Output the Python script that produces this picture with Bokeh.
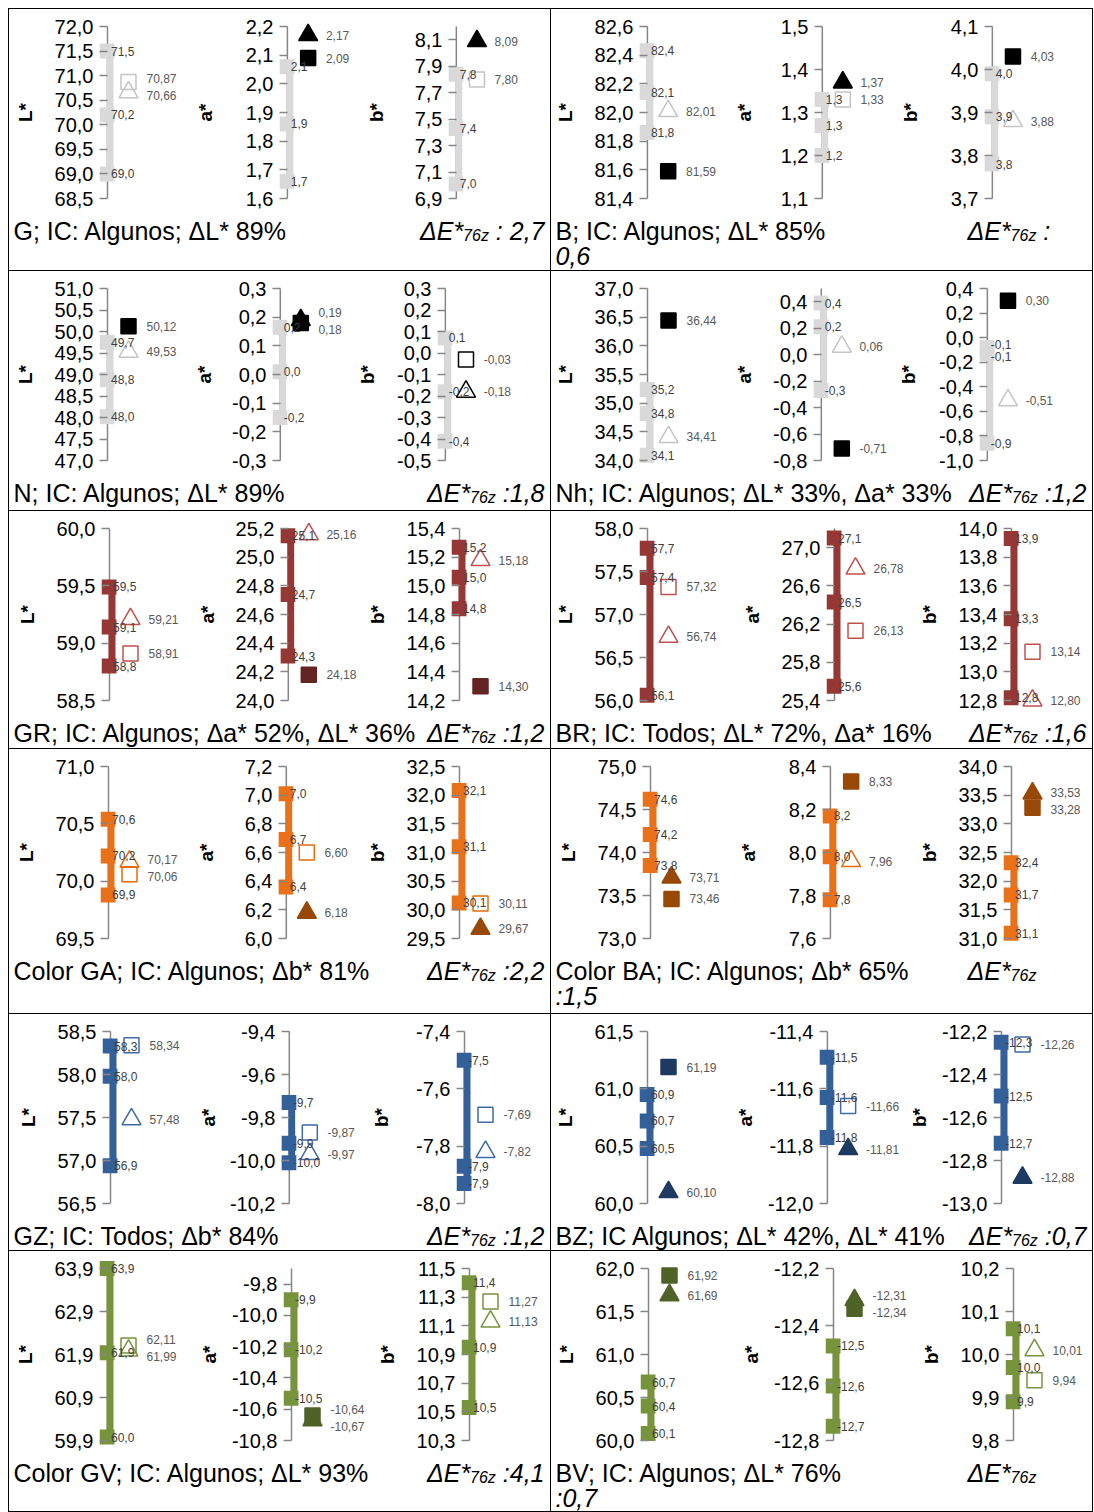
from bokeh.plotting import figure
from bokeh.models import Range1d, LinearAxis, FixedTicker, CustomJSTickFormatter, ColumnDataSource
from bokeh.layouts import row, column
from bokeh.embed import file_html
from bokeh.resources import INLINE
from bokeh.core.properties import value

# ------------------------------------------------------------------ data
COMPONENTS = ["L*", "a*", "b*"]

CAP_LEFT = ["G; IC: Algunos; ΔL* 89%", "B; IC: Algunos; ΔL* 85%",
            "N; IC: Algunos; ΔL* 89%", "Nh; IC: Algunos; ΔL* 33%, Δa* 33%",
            "GR; IC: Algunos; Δa* 52%, ΔL* 36%", "BR; IC: Todos; ΔL* 72%, Δa* 16%",
            "Color GA; IC: Algunos; Δb* 81%", "Color BA; IC: Algunos; Δb* 65%",
            "GZ; IC: Todos; Δb* 84%", "BZ; IC Algunos; ΔL* 42%, ΔL* 41%",
            "Color GV; IC: Algunos; ΔL* 93%", "BV; IC: Algunos; ΔL* 76%"]
NB = "\u00a0"
CAP_DE_TAIL = [NB + ":" + NB + "2,7", NB + ":", NB + ":1,8", NB + ":1,2", NB + ":1,2", NB + ":1,6",
               NB + ":2,2", "", NB + ":1,2", NB + ":0,7", NB + ":4,1", ""]
CAP_LINE2 = ["", "0,6", "", "", "", "", "", ":1,5", "", "", "", ":0,7"]

# each cell: ticks / axis top / IC positions / IC labels / compared markers, for [L*, a*, b*]
G_ticks = [[68.5, 69.0, 69.5, 70.0, 70.5, 71.0, 71.5, 72.0], [1.6, 1.7, 1.8, 1.9, 2.0, 2.1, 2.2],
           [6.9, 7.1, 7.3, 7.5, 7.7, 7.9, 8.1]]
G_top = [72.0, 2.2, 8.2]
G_ic = [[69.0, 70.2, 71.5], [1.66, 1.86, 2.06], [7.01, 7.43, 7.84]]
G_ic_lab = [["69,0", "70,2", "71,5"], ["1,7", "1,9", "2,1"], ["7,0", "7,4", "7,8"]]
G_mk = [[("hs", 70.87), ("ht", 70.66)], [("ft", 2.17), ("fs", 2.09)], [("ft", 8.09), ("hs", 7.80)]]

B_ticks = [[81.4, 81.6, 81.8, 82.0, 82.2, 82.4, 82.6], [1.1, 1.2, 1.3, 1.4, 1.5], [3.7, 3.8, 3.9, 4.0, 4.1]]
B_top = [82.6, 1.5, 4.1]
B_ic = [[81.86, 82.14, 82.43], [1.20, 1.27, 1.33], [3.78, 3.89, 3.99]]
B_ic_lab = [["81,8", "82,1", "82,4"], ["1,2", "1,3", "1,3"], ["3,8", "3,9", "4,0"]]
B_mk = [[("ht", 82.01), ("fs", 81.59)], [("ft", 1.37), ("hs", 1.33)], [("fs", 4.03), ("ht", 3.88)]]

N_ticks = [[47.0, 47.5, 48.0, 48.5, 49.0, 49.5, 50.0, 50.5, 51.0], [-0.3, -0.2, -0.1, 0.0, 0.1, 0.2, 0.3],
           [-0.5, -0.4, -0.3, -0.2, -0.1, 0.0, 0.1, 0.2, 0.3]]
N_top = [51.0, 0.3, 0.3]
N_ic = [[48.02, 48.88, 49.75], [-0.15, 0.01, 0.165], [-0.41, -0.18, 0.07]]
N_ic_lab = [["48,0", "48,8", "49,7"], ["-0,2", "0,0", "0,2"], ["-0,4", "-0,2", "0,1"]]
N_mk = [[("fs", 50.12), ("ht", 49.53)], [("ft", 0.19), ("fs", 0.18)], [("hs", -0.03), ("ht", -0.18)]]

Nh_ticks = [[34.0, 34.5, 35.0, 35.5, 36.0, 36.5, 37.0], [-0.8, -0.6, -0.4, -0.2, 0.0, 0.2, 0.4],
            [-1.0, -0.8, -0.6, -0.4, -0.2, 0.0, 0.2, 0.4]]
Nh_top = [37.0, 0.5, 0.4]
Nh_ic = [[34.09, 34.82, 35.24], [-0.27, 0.21, 0.39], [-0.86, -0.13, -0.08]]
Nh_ic_lab = [["34,1", "34,8", "35,2"], ["-0,3", "0,2", "0,4"], ["-0,9", "-0,1", "-0,1"]]
Nh_mk = [[("fs", 36.44), ("ht", 34.41)], [("ht", 0.06), ("fs", -0.71)], [("fs", 0.30), ("ht", -0.51)]]

GR_ticks = [[58.5, 59.0, 59.5, 60.0], [24.0, 24.2, 24.4, 24.6, 24.8, 25.0, 25.2],
            [14.2, 14.4, 14.6, 14.8, 15.0, 15.2, 15.4]]
GR_top = [60.0, 25.2, 15.4]
GR_ic = [[58.80, 59.14, 59.49], [24.31, 24.74, 25.15], [14.84, 15.06, 15.27]]
GR_ic_lab = [["58,8", "59,1", "59,5"], ["24,3", "24,7", "25,1"], ["14,8", "15,0", "15,2"]]
GR_mk = [[("ht", 59.21), ("hs", 58.91)], [("ht", 25.16), ("fs", 24.18)], [("ht", 15.18), ("fs", 14.30)]]

BR_ticks = [[56.0, 56.5, 57.0, 57.5, 58.0], [25.4, 25.8, 26.2, 26.6, 27.0],
            [12.8, 13.0, 13.2, 13.4, 13.6, 13.8, 14.0]]
BR_top = [58.0, 27.2, 14.0]
BR_ic = [[56.06, 57.43, 57.77], [25.55, 26.43, 27.10], [12.82, 13.37, 13.93]]
BR_ic_lab = [["56,1", "57,4", "57,7"], ["25,6", "26,5", "27,1"], ["12,8", "13,3", "13,9"]]
BR_mk = [[("hs", 57.32), ("ht", 56.74)], [("ht", 26.78), ("hs", 26.13)], [("hs", 13.14), ("ht", 12.80)]]

GA_ticks = [[69.5, 70.0, 70.5, 71.0], [6.0, 6.2, 6.4, 6.6, 6.8, 7.0, 7.2],
            [29.5, 30.0, 30.5, 31.0, 31.5, 32.0, 32.5]]
GA_top = [71.0, 7.2, 32.5]
GA_ic = [[69.88, 70.22, 70.54], [6.36, 6.69, 7.01], [30.12, 31.10, 32.08]]
GA_ic_lab = [["69,9", "70,2", "70,6"], ["6,4", "6,7", "7,0"], ["30,1", "31,1", "32,1"]]
GA_mk = [[("ht", 70.17), ("hs", 70.06)], [("hs", 6.60), ("ft", 6.18)], [("hs", 30.11), ("ft", 29.67)]]

BA_ticks = [[73.0, 73.5, 74.0, 74.5, 75.0], [7.6, 7.8, 8.0, 8.2, 8.4],
            [31.0, 31.5, 32.0, 32.5, 33.0, 33.5, 34.0]]
BA_top = [75.0, 8.4, 34.0]
BA_ic = [[73.85, 74.21, 74.62], [7.78, 7.98, 8.17], [31.09, 31.76, 32.32]]
BA_ic_lab = [["73,8", "74,2", "74,6"], ["7,8", "8,0", "8,2"], ["31,1", "31,7", "32,4"]]
BA_mk = [[("ft", 73.71), ("fs", 73.46)], [("fs", 8.33), ("ht", 7.96)], [("ft", 33.53), ("fs", 33.28)]]

GZ_ticks = [[56.5, 57.0, 57.5, 58.0, 58.5], [-10.2, -10.0, -9.8, -9.6, -9.4], [-8.0, -7.8, -7.6, -7.4]]
GZ_top = [58.5, -9.4, -7.4]
GZ_ic = [[56.94, 57.98, 58.33], [-10.01, -9.92, -9.73], [-7.93, -7.87, -7.50]]
GZ_ic_lab = [["56,9", "58,0", "58,3"], ["-10,0", "-9,9", "-9,7"], ["-7,9", "-7,9", "-7,5"]]
GZ_mk = [[("hs", 58.34), ("ht", 57.48)], [("hs", -9.87), ("ht", -9.97)], [("hs", -7.69), ("ht", -7.82)]]

BZ_ticks = [[60.0, 60.5, 61.0, 61.5], [-12.0, -11.8, -11.6, -11.4], [-13.0, -12.8, -12.6, -12.4, -12.2]]
BZ_top = [61.5, -11.4, -12.2]
BZ_ic = [[60.48, 60.72, 60.95], [-11.77, -11.63, -11.49], [-12.72, -12.50, -12.25]]
BZ_ic_lab = [["60,5", "60,7", "60,9"], ["-11,8", "-11,6", "-11,5"], ["-12,7", "-12,5", "-12,3"]]
BZ_mk = [[("fs", 61.19), ("ft", 60.10)], [("hs", -11.66), ("ft", -11.81)], [("hs", -12.26), ("ft", -12.88)]]

GV_ticks = [[59.9, 60.9, 61.9, 62.9, 63.9], [-10.8, -10.6, -10.4, -10.2, -10.0, -9.8],
            [10.3, 10.5, 10.7, 10.9, 11.1, 11.3, 11.5]]
GV_top = [63.9, -9.7, 11.5]
GV_ic = [[59.98, 61.94, 63.90], [-10.53, -10.22, -9.90], [10.53, 10.95, 11.40]]
GV_ic_lab = [["60,0", "61,9", "63,9"], ["-10,5", "-10,2", "-9,9"], ["10,5", "10,9", "11,4"]]
GV_mk = [[("hs", 62.11), ("ht", 61.99)], [("ft", -10.67), ("fs", -10.64)], [("hs", 11.27), ("ht", 11.13)]]

BV_ticks = [[60.0, 60.5, 61.0, 61.5, 62.0], [-12.8, -12.6, -12.4, -12.2], [9.8, 9.9, 10.0, 10.1, 10.2]]
BV_top = [62.0, -12.2, 10.2]
BV_ic = [[60.08, 60.40, 60.68], [-12.75, -12.61, -12.47], [9.89, 9.97, 10.06]]
BV_ic_lab = [["60,1", "60,4", "60,7"], ["-12,7", "-12,6", "-12,5"], ["9,9", "10,0", "10,1"]]
BV_mk = [[("fs", 61.92), ("ft", 61.69)], [("ft", -12.31), ("fs", -12.34)], [("ht", 10.01), ("hs", 9.94)]]

CELLS = [
    (G_ticks, G_top, G_ic, G_ic_lab, G_mk), (B_ticks, B_top, B_ic, B_ic_lab, B_mk),
    (N_ticks, N_top, N_ic, N_ic_lab, N_mk), (Nh_ticks, Nh_top, Nh_ic, Nh_ic_lab, Nh_mk),
    (GR_ticks, GR_top, GR_ic, GR_ic_lab, GR_mk), (BR_ticks, BR_top, BR_ic, BR_ic_lab, BR_mk),
    (GA_ticks, GA_top, GA_ic, GA_ic_lab, GA_mk), (BA_ticks, BA_top, BA_ic, BA_ic_lab, BA_mk),
    (GZ_ticks, GZ_top, GZ_ic, GZ_ic_lab, GZ_mk), (BZ_ticks, BZ_top, BZ_ic, BZ_ic_lab, BZ_mk),
    (GV_ticks, GV_top, GV_ic, GV_ic_lab, GV_mk), (BV_ticks, BV_top, BV_ic, BV_ic_lab, BV_mk),
]

# ------------------------------------------------------------------ styles / layout
PALETTES = {
    "gray": dict(bar="#d9d9d9", hollow="#c4c4c4", filled="#000000"),
    "red": dict(bar="#953735", hollow="#c0504d", filled="#632523"),
    "orange": dict(bar="#e8711a", hollow="#e46c0a", filled="#984807"),
    "blue": dict(bar="#34609a", hollow="#3e6aa6", filled="#1f3a60"),
    "green": dict(bar="#77933c", hollow="#77933c", filled="#4f6228"),
}
ROW_PAL = ["gray", "gray", "red", "orange", "blue", "green"]
HOLLOW_OVERRIDE = {(2, 2): "#000000"}

# pixel position of each mini-plot's axis line inside its cell
AXIS_X = [(98, 277, 445), (95, 269, 439), (98, 269, 434), (96, 268, 434),
          (100, 277, 450), (96, 283, 460), (99, 275, 450), (99, 278, 460),
          (101, 278, 455), (96, 275, 450), (98, 282, 460), (97, 282, 462)]

FONT = "Liberation Sans"
AXIS_GRAY = "#868686"
CELL_W = 541
ROW_H = [261, 239, 237, 264, 236, 260]
PLOT_H = 205
AX_TOP, AX_LEN = 17, 172
BORDER = "1px solid #000"
CAP_PX, SUB_PX = 25, 16

CHAR_W = {c: 0.556 for c in "0123456789"}
CHAR_W.update({",": 0.278, ".": 0.278, "-": 0.333, ":": 0.278, " ": 0.278, NB: 0.278, "*": 0.389,
               "Δ": 0.668, "E": 0.667, "z": 0.5})


def text_w(s, px):
    return sum(CHAR_W.get(c, 0.556) for c in s) * px


def spread(vals, upp, min_px):
    order = sorted(range(len(vals)), key=lambda i: -vals[i])
    pos = [vals[i] for i in order]
    gap = min_px * upp
    for _ in range(30):
        moved = False
        for k in range(1, len(pos)):
            d = pos[k - 1] - pos[k]
            if d < gap - 1e-12:
                s = (gap - d) / 2
                pos[k - 1] += s
                pos[k] -= s
                moved = True
        if not moved:
            break
    out = [0.0] * len(vals)
    for k, i in enumerate(order):
        out[i] = pos[k]
    return out


def fmt2(v):
    return f"{v:.2f}".replace(".", ",")


def mini(ticks, top, ic, ic_lab, mk, comp, pal, hollow_col, fw, fl):
    lo, hi = ticks[0], top
    upp = (hi - lo) / AX_LEN
    pad_top = (AX_TOP - 5) * upp
    pad_bot = (PLOT_H - 4 - AX_TOP - AX_LEN) * upp
    frame_w = fw - fl
    p = figure(width=fw, height=PLOT_H, x_range=Range1d(-8, frame_w - 8),
               y_range=Range1d(lo - pad_bot, hi + pad_top),
               output_backend="svg", toolbar_location=None,
               x_axis_location=None, y_axis_location=None,
               min_border_left=fl, min_border_right=0, min_border_top=5, min_border_bottom=4,
               outline_line_color=None)
    p.grid.visible = False
    wmax = max(text_w(f"{t:.1f}".replace(".", ","), 20) for t in ticks)
    st = int(round(min(55 - wmax, fl - 31 - wmax)))
    ax = LinearAxis(ticker=FixedTicker(ticks=ticks, minor_ticks=[]),
                    formatter=CustomJSTickFormatter(code="return tick.toFixed(1).replace('.', ',');"),
                    axis_line_color=None, major_tick_in=8, major_tick_out=0,
                    major_tick_line_color=AXIS_GRAY, major_tick_line_width=1.5,
                    minor_tick_line_color=None,
                    major_label_text_font=FONT, major_label_text_font_size="20px",
                    major_label_text_color="#000000", major_label_standoff=6,
                    axis_label=comp, axis_label_text_font=FONT, axis_label_text_font_size="19px",
                    axis_label_text_font_style="bold", axis_label_text_color="#000000",
                    axis_label_standoff=max(2, st))
    p.add_layout(ax, "left")
    p.segment(x0=[0], y0=[lo], x1=[0], y1=[hi], line_color=AXIS_GRAY, line_width=1.5)
    # IC bar and squares
    p.vbar(x=[2.5], width=7, bottom=[min(ic)], top=[max(ic)], fill_color=pal["bar"], line_color=None)
    p.scatter(x=[-0.5] * len(ic), y=ic, marker="square", size=15, fill_color=pal["bar"], line_color=None)
    # compared markers
    n = len(mk)
    kinds = [k for k, v in mk]
    vals = [v for k, v in mk]
    col = [pal["filled"] if k[0] == "f" else hollow_col for k in kinds]
    src = ColumnDataSource(dict(
        x=[21] * n, y=vals,
        marker=["square" if k[1] == "s" else "triangle" for k in kinds],
        size=[15 if k[1] == "s" else 19 for k in kinds],
        fill=col, line=col,
        falpha=[1.0 if k[0] == "f" else 0.0 for k in kinds]))
    p.scatter(x="x", y="y", marker="marker", size="size", fill_color="fill", fill_alpha="falpha",
              line_color="line", line_width=1.5, source=src)
    # labels
    icy = spread(ic, upp, 12)
    p.text(x=[3.5] * len(ic), y=icy, text=ic_lab, text_font=value(FONT), text_font_size="12px",
           text_color="#404040", text_baseline="middle", text_align="left")
    mky = spread(vals, upp, 17)
    p.text(x=[39] * n, y=mky, text=[fmt2(v) for v in vals], text_font=value(FONT),
           text_font_size="12px", text_color="#595959", text_baseline="middle", text_align="left")
    return p


MID1 = 16.0
MID2 = 41.0


def caption(i, h):
    p = figure(width=CELL_W, height=h, x_range=Range1d(0, CELL_W), y_range=Range1d(h, 0),
               output_backend="svg", toolbar_location=None,
               x_axis_location=None, y_axis_location=None, min_border=0, outline_line_color=None)
    p.grid.visible = False
    common = dict(text_font=value(FONT), text_color="#000000", text_baseline="middle", text_align="left")
    p.text(x=[4], y=[MID1], text=[CAP_LEFT[i]], text_font_size=f"{CAP_PX}px", **common)
    pieces = [("ΔE*", CAP_PX, 0), ("76z", SUB_PX, 5), (CAP_DE_TAIL[i], CAP_PX, 0)]
    total = sum(text_w(s, sz) for s, sz, _ in pieces)
    x = 416 if CAP_LINE2[i] else CELL_W - 6 - total
    for s, sz, dy in pieces:
        if s:
            p.text(x=[x], y=[MID1 + dy], text=[s], text_font_size=f"{sz}px",
                   text_font_style="italic", **common)
        x += text_w(s, sz)
    if CAP_LINE2[i]:
        p.text(x=[4], y=[MID2], text=[CAP_LINE2[i]], text_font_size=f"{CAP_PX}px",
               text_font_style="italic", **common)
    return p


cells = []
for i, (ticks, tops, ics, ic_labs, mks) in enumerate(CELLS):
    pal = PALETTES[ROW_PAL[i // 2]]
    a0, a1, a2 = AXIS_X[i]
    spans = [(0, a0 + 84), (a0 + 84, a1 + 76), (a1 + 76, CELL_W)]
    figs = []
    for j in range(3):
        x_start, x_end = spans[j]
        hc = HOLLOW_OVERRIDE.get((i, j), pal["hollow"])
        figs.append(mini(ticks[j], tops[j], ics[j], ic_labs[j], mks[j], COMPONENTS[j], pal, hc,
                         x_end - x_start, AXIS_X[i][j] - 8 - x_start))
    cap = caption(i, ROW_H[i // 2] - PLOT_H)
    cells.append(column(row(*figs), cap,
                        styles={"border-right": BORDER, "border-bottom": BORDER}))

rows = [row(cells[2 * r], cells[2 * r + 1]) for r in range(6)]
layout = column(*rows, styles={"border-top": BORDER, "border-left": BORDER,
                               "margin-left": "8px", "margin-top": "8px"})

open("out.html", "w").write(file_html(layout, INLINE))
